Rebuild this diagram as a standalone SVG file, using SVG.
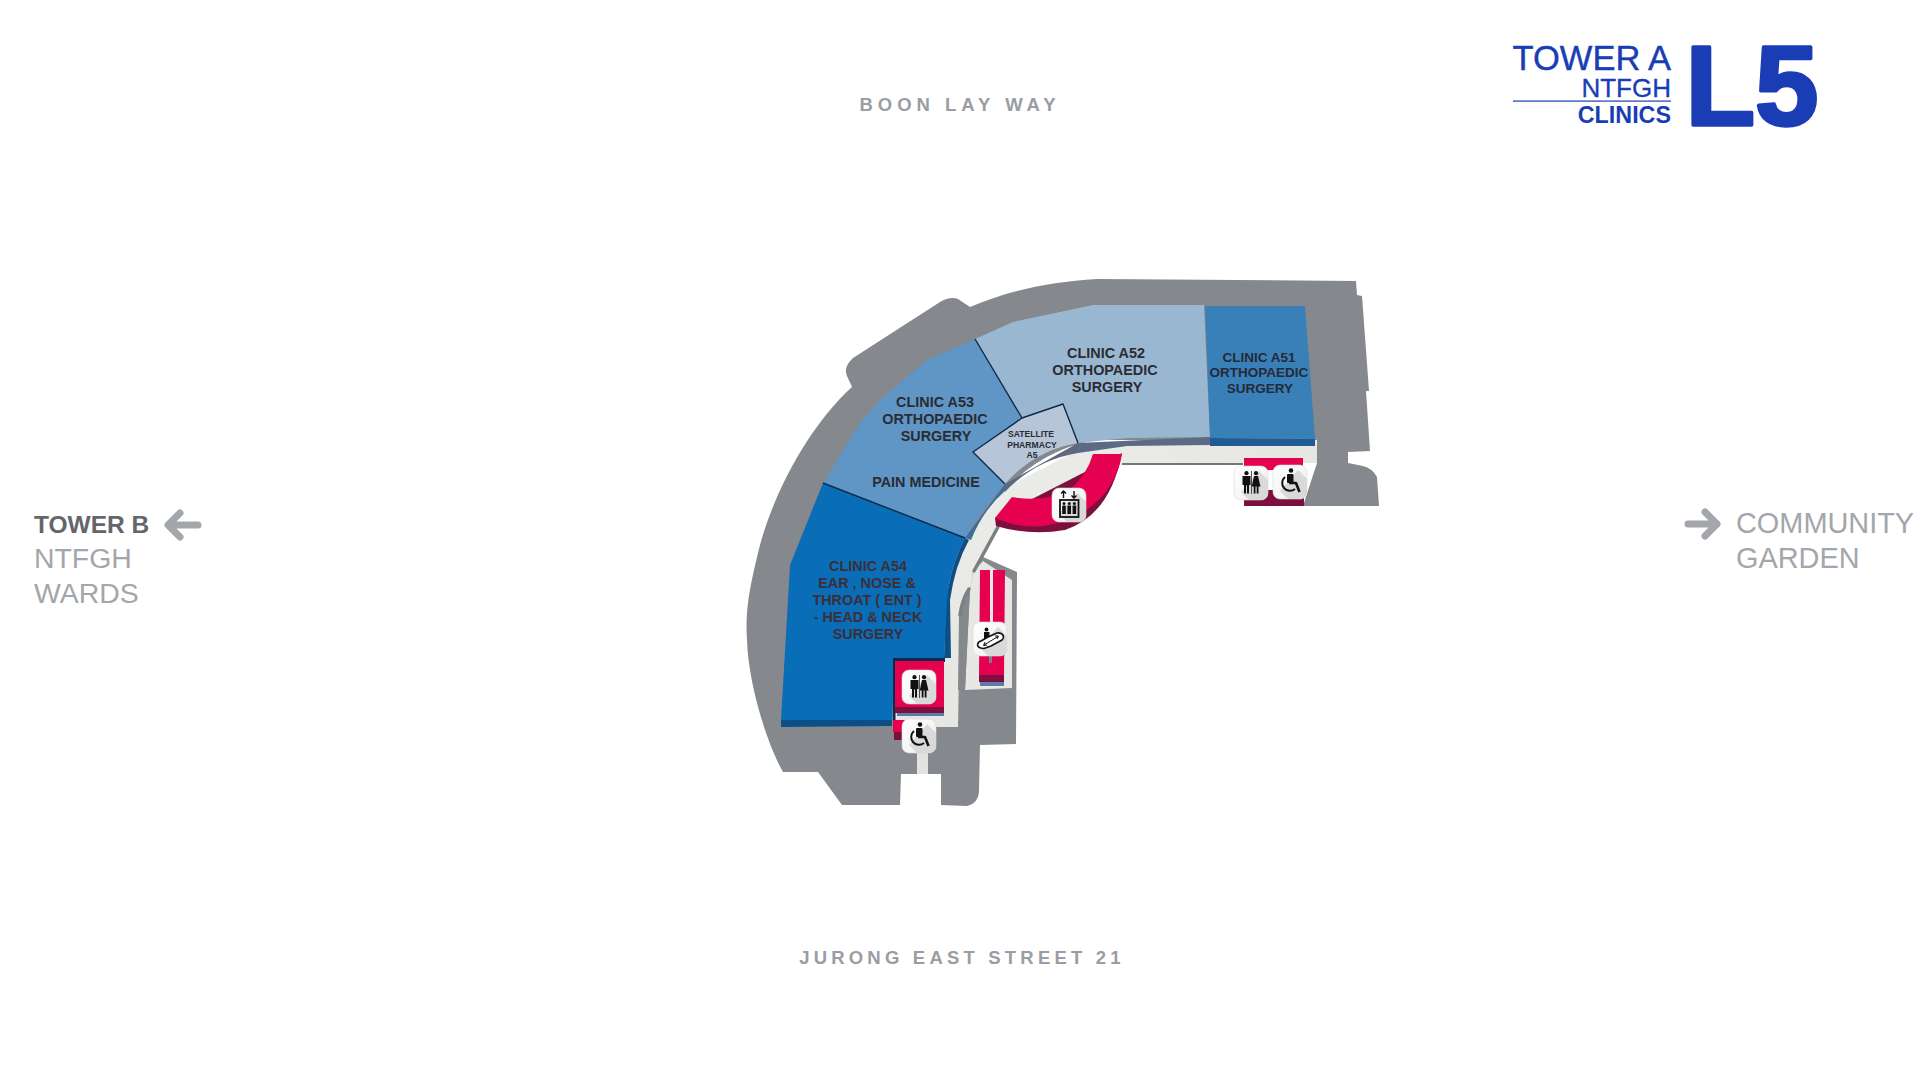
<svg xmlns="http://www.w3.org/2000/svg" xmlns:xlink="http://www.w3.org/1999/xlink" width="1920" height="1080" viewBox="0 0 1920 1080">
<style>
text{font-family:"Liberation Sans",Arial,sans-serif}
.room{font-weight:700;font-size:14.4px;fill:#2b2c33;text-anchor:middle}
.a51{font-size:13.5px;fill:#242a38}
.a54{fill:#3c2f38}
.ph{font-size:8.6px;fill:#2b2c33}
.street{font-weight:700;font-size:18.5px;fill:#9a9da3;text-anchor:middle}
.side{font-size:28.4px;fill:#a3a6ab}
.logo{fill:#1a3db5;text-anchor:end}
.arrow{fill:none;stroke:#a3a6ab;stroke-width:7;stroke-linecap:round;stroke-linejoin:round}
.edge{fill:none;stroke:#10294a;stroke-width:1.4;stroke-linejoin:round}
.wall{fill:none;stroke:#7b8087;stroke-width:3.5;stroke-linecap:round}
.pink{fill:#e60050}
.pinkd{fill:#7d0f3e}
.g{fill:#111}
.gs{fill:none;stroke:#111;stroke-width:1.8}
</style>
<defs>
<linearGradient id="fl" x1="0" y1="0" x2="1" y2="1"><stop offset="0" stop-color="#eeeeeb"/><stop offset="1" stop-color="#dfdfdb"/></linearGradient>
<linearGradient id="tile" x1="0" y1="0" x2="1" y2="1"><stop offset="0" stop-color="#fff"/><stop offset="1" stop-color="#ededed"/></linearGradient>
<g id="tile-base">
<rect width="34" height="34" rx="7" fill="url(#tile)" stroke="#d8d8d8" stroke-width=".6"/>
<path d="M25,5 L34,14 V27 A7,7 0 0 1 27,34 H15 L7,26 Z" fill="#d9d9d9"/>
</g>
<g id="ic-wc">
<use href="#tile-base"/>
<circle class="g" cx="12.5" cy="7.2" r="2.1"/>
<path class="g" d="M8.5,10 H16.5 V19 H15 V27.5 H13 V19.5 H12 V27.5 H10 V19 H8.5 Z"/>
<rect class="g" x="17.3" y="5" width=".7" height="23"/>
<circle class="g" cx="22" cy="7.2" r="2.1"/>
<path class="g" d="M20,10 H24 L26.5,20.5 H24.5 V27.5 H22.7 V20.5 H21.5 V27.5 H19.7 V20.5 H17.7 Z"/>
</g>
<g id="ic-wh">
<use href="#tile-base"/>
<circle class="g" cx="18" cy="5.5" r="2.3"/>
<rect class="g" x="14" y="9" width="6.5" height="9" rx="1"/>
<path d="M12,12 A7.5,7.5 0 1 0 22,24" fill="none" stroke="#111" stroke-width="2"/>
<path d="M16,18 H23 L26.5,27" fill="none" stroke="#111" stroke-width="2.6" stroke-linejoin="round"/>
</g>
<g id="ic-lift">
<use href="#tile-base"/>
<rect class="gs" x="8" y="12" width="18.5" height="17"/>
<path d="M11.5,10 V3 M9,5.5 L11.5,3 L14,5.5 M22,3 V10 M19.5,7.5 L22,10 L24.5,7.5" fill="none" stroke="#111" stroke-width="1.4"/>
<circle class="g" cx="12" cy="15.5" r="1.5"/><circle class="g" cx="17.2" cy="15.5" r="1.5"/><circle class="g" cx="22.4" cy="15.5" r="1.5"/>
<path class="g" d="M10.2,17.5 H13.8 V26 H10.2 Z M15.4,17.5 H19 V26 H15.4 Z M20.6,17.5 H24.2 V26 H20.6 Z"/>
</g>
<g id="ic-esc">
<use href="#tile-base"/>
<circle class="g" cx="13.5" cy="7.5" r="1.9"/>
<rect class="g" x="11" y="10" width="5.5" height="7"/>
<path d="M8,26 C3,25 4,20 8,19 L15,15 L24,11 C30,10 32,15 29,18 L18,24 L11,26.5 Z" fill="#fff" stroke="#111" stroke-width="1.6" stroke-linejoin="round"/>
<path d="M11,23 L25,14.5 M22,14 L25.5,14 L24,17 M14,23 L10.5,23.5 L12,20" fill="none" stroke="#111" stroke-width="1"/>
</g>
</defs>

<g id="base">
<path d="M970,307 L958,299 Q950,296 940,302 L853,358 Q843,367 847,376 L852,387 C810,425 775,490 760,545 C750,585 745,610 747,640 C748,680 765,740 783,772 L818,772 L842,805 L900,805 L901,774 L941,774 L941,805 L967,806 Q979,803 979,790 L980,745 L1016,744 L1017,572 L983,557 L965,545 C1000,480 1050,445 1100,440 L1317,440 L1317,463 L1303,506 L1379,506 L1377,477 Q1372,468 1363,466 L1348,463 L1348,452 L1370,451 L1366,391 L1369,391 L1362,296 L1357,295 L1356,281 L1097,279 C1050,282 1010,290 970,307 Z" fill="#85888c"/>
<path id="floor-main" d="M1317,440 L1317,463 L1122,463 L1100,500 L996,527 L973,572 L970,590 L960,615 L958,727 L935,727 L893,727 L893,700 L944,700 L944,650 L950,580 L965,540 L1005,488 L1078,450 L1127,442 Z" fill="url(#fl)"/>
<path id="floor-esc" d="M973,572 L983,561 L1012,580 L1012,688 L965,690 L970,590 Z" fill="#e7e7e3"/>
<rect id="floor-strip" x="917" y="750" width="11" height="24" fill="#e2e2df"/>
<path d="M970,588 L965,690 L958,690 L959,615 Z" fill="#85888c"/>
<path d="M1122,464 H1243" fill="none" stroke="#6f7880" stroke-width="2"/>
<path class="wall" d="M998,527 L974,571"/>
<path class="wall" d="M969,589 Q962,600 960,615"/>
</g>

<g id="clinic-a54">
<path d="M781,720 L781,727 L892,726 L892,720 Z" fill="#0c4f86"/>
<path d="M965,538 Q954,560 950,580 L946,600 L944,658 L951,658 L950,600 Q955,565 969,540 Z" fill="#0c4f86"/>
<path d="M823,483 L965,538 Q950,565 947,600 L944,658 L895,659 L892,720 L781,720 L790,565 Z" fill="#0a6db7"/>
<path class="edge" d="M895,659 H944" stroke-width="2"/>
<text class="room a54"><tspan x="868" y="571">CLINIC A54</tspan><tspan x="867" y="588">EAR , NOSE &amp;</tspan><tspan x="867" y="605">THROAT ( ENT )</tspan><tspan x="868" y="622">- HEAD &amp; NECK</tspan><tspan x="868" y="639">SURGERY</tspan></text>
</g>

<g id="clinic-a53">
<path d="M1005,484 L1005,491 Q983,510 971,540 L965,538 Z" fill="#3e6d9c"/>
<path d="M823,483 L860,423 L880,400 L927,360 L975,339 L1022,418 L973,452 L1005,484 Q983,508 965,538 Z" fill="#5f96c5"/>
<text class="room"><tspan x="935" y="407">CLINIC A53</tspan><tspan x="935" y="424">ORTHOPAEDIC</tspan><tspan x="936" y="441">SURGERY</tspan><tspan x="926" y="487">PAIN MEDICINE</tspan></text>
</g>

<g id="clinic-a52">
<path d="M1078,443 L1078,453 L1127,446 L1210,445 L1210,437 Z" fill="#5c6a85"/>
<path d="M975,339 L1013,322 L1093,305 L1204,305 L1210,437 L1127,438 L1078,443 L1063,404 L1022,418 Z" fill="#9ab7d2"/>
<text class="room"><tspan x="1106" y="357.5">CLINIC A52</tspan><tspan x="1105" y="374.5">ORTHOPAEDIC</tspan><tspan x="1107" y="391.5">SURGERY</tspan></text>
</g>

<g id="clinic-a51">
<path d="M1210,438 V446 H1315 V439 Z" fill="#1f5c95"/>
<path d="M1205,306 H1305 L1315,439 L1210,438 Z" fill="#3a80b8"/>
<text class="room a51"><tspan x="1259" y="361.5">CLINIC A51</tspan><tspan x="1259" y="377">ORTHOPAEDIC</tspan><tspan x="1260" y="393">SURGERY</tspan></text>
</g>

<g id="satellite-pharmacy">
<path d="M1078,443 L1078,453 Q1035,460 1005,492 L1005,484 Z" fill="#5f6880"/>
<path d="M973,452 L1022,418 L1063,404 L1078,443 Q1035,450 1005,484 Z" fill="#b6c5d8"/>
<text class="room ph"><tspan x="1031" y="437">SATELLITE</tspan><tspan x="1032" y="448">PHARMACY</tspan><tspan x="1032" y="458">A5</tspan></text>
</g>

<g id="room-edges">
<path class="edge" d="M975,339 L1022,418"/>
<path class="edge" d="M1005,484 L973,452 L1022,418 L1063,404 L1078,443"/>
<path class="edge" d="M823,483 L965,538"/>
</g>

<g id="lifts">
<path class="pinkd" d="M995,518 L996,526 Q1030,536 1065,530 Q1110,515 1122,453 Z"/>
<path class="pink" d="M1093,454 H1122 Q1116,490 1085,511 Q1040,538 995,518 L1012,497 Q1045,503 1070,489 Q1087,475 1093,454 Z"/>
<use href="#ic-lift" x="1052" y="488"/>
</g>

<g id="toilets-east">
<rect class="pink" x="1244" y="458" width="59" height="12"/>
<rect class="pinkd" x="1244" y="490" width="60" height="16"/>
<use href="#ic-wc" x="1234" y="466"/>
<use href="#ic-wh" x="1273" y="465"/>
</g>

<g id="escalators">
<path d="M980,682 H1004 V686 H980 Z" fill="#5d7aa8"/>
<path class="pinkd" d="M979,675 H1004 V682 H979 Z"/>
<path class="pink" d="M980,570 H990 L990,650 H993 L993,570 H1005 L1004,675 H979 Z"/>
<rect x="989" y="650" width="3" height="13" fill="#74808a"/>
<use href="#ic-esc" x="973" y="622"/>
</g>

<g id="toilets-west">
<rect x="893" y="658" width="52" height="4" fill="#10294a"/>
<rect x="893" y="658" width="2.5" height="62" fill="#10294a"/>
<rect x="897" y="712" width="47" height="4" fill="#5d7aa8"/>
<rect class="pinkd" x="895" y="705" width="49" height="8"/>
<rect class="pink" x="895" y="661" width="49" height="46"/>
<rect class="pinkd" x="894" y="728" width="12" height="12"/>
<rect class="pink" x="893" y="720" width="12" height="12"/>
<use href="#ic-wc" x="902" y="670"/>
<use href="#ic-wh" x="902" y="719"/>
</g>

<g id="labels">
<text class="street" x="960" y="110.5" letter-spacing="5">BOON LAY WAY</text>
<text class="street" x="962" y="963.5" letter-spacing="4.2">JURONG EAST STREET 21</text>
</g>

<g id="tower-b">
<text x="34" y="533" font-size="24.5" font-weight="700" fill="#63666d">TOWER B</text>
<text class="side" x="34" y="568">NTFGH</text>
<text class="side" x="34" y="603">WARDS</text>
<path class="arrow" d="M198,525 H169 M180,513 L168,525 L180,537"/>
</g>

<g id="community-garden">
<text class="side" x="1736" y="533" style="font-size:28.9px">COMMUNITY</text>
<text class="side" x="1736" y="568" style="font-size:28.9px">GARDEN</text>
<path class="arrow" d="M1688,524 H1717 M1705,512 L1717,524 L1705,536"/>
</g>

<g id="title">
<text class="logo" x="1671" y="70" font-size="34.5" stroke="#1a3db5" stroke-width=".4">TOWER A</text>
<text class="logo" x="1671" y="97" font-size="26" stroke="#1a3db5" stroke-width=".3">NTFGH</text>
<rect x="1513" y="100.5" width="158" height="1.2" fill="#1a3db5"/>
<text class="logo" x="1671" y="123" font-size="23.3" font-weight="700">CLINICS</text>
<text x="1685.5" y="124.5" font-size="114" font-weight="700" fill="#1a3db5" stroke="#1a3db5" stroke-width="3.5" stroke-linejoin="round">L</text>
<text x="1755" y="124.5" font-size="114" font-weight="700" fill="#1a3db5" stroke="#1a3db5" stroke-width="3.5" stroke-linejoin="round">5</text>
</g>
</svg>
